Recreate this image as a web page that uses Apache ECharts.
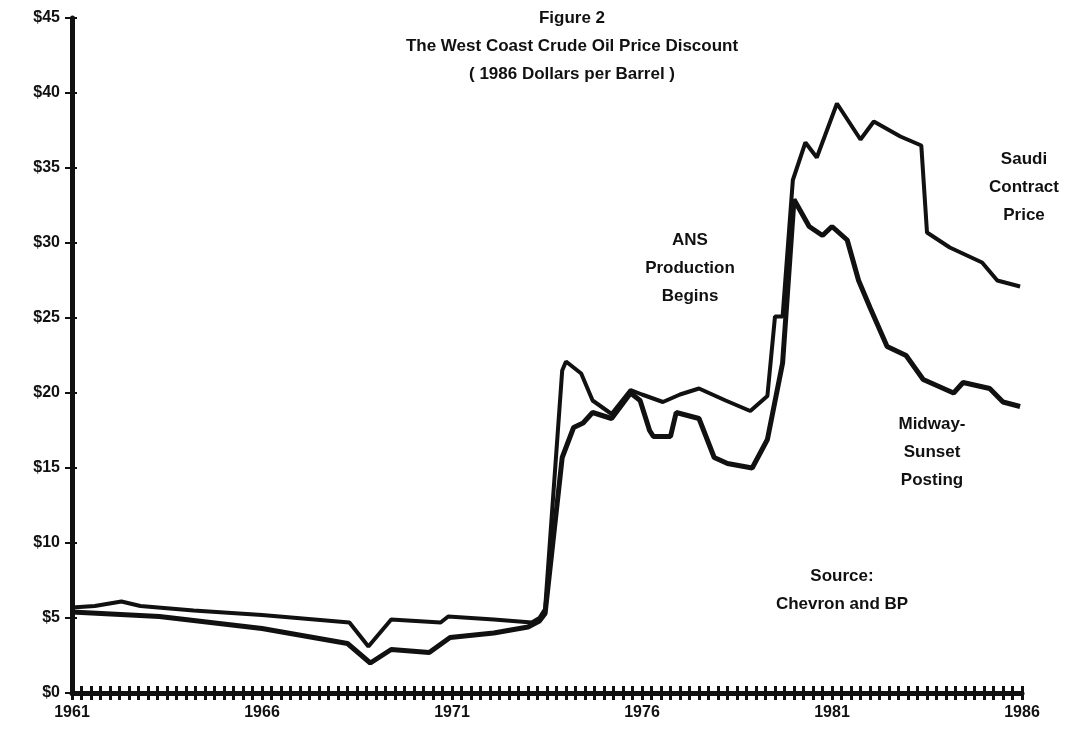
<!DOCTYPE html>
<html>
<head>
<meta charset="utf-8">
<script src="https://cdn.jsdelivr.net/npm/echarts@6/dist/echarts.min.js"></script>
<style>
  html, body { margin: 0; padding: 0; background: #fff; }
  #chart { width: 1066px; height: 752px; }
</style>
</head>
<body>
<div id="chart"></div>
<script>
// year labels on the x axis
const yearLabels = [1961, 1966, 1971, 1976, 1981, 1986]
const priceTicks = [0, 5, 10, 15, 20, 25, 30, 35, 40, 45]

// [year, 1986 $ per barrel]
const saudiContract = [
  [1961.0, 5.7], [1961.6, 5.8], [1962.3, 6.1], [1962.8, 5.8], [1964.2, 5.5],
  [1966.0, 5.2], [1968.3, 4.7], [1968.8, 3.1], [1969.4, 4.9], [1970.7, 4.7],
  [1970.9, 5.1], [1972.1, 4.9], [1973.1, 4.7], [1973.3, 5.0], [1973.45, 5.6],
  [1973.9, 21.5], [1974.0, 22.1], [1974.4, 21.3], [1974.7, 19.5], [1975.2, 18.6],
  [1975.7, 20.2], [1976.0, 19.9], [1976.55, 19.4], [1977.0, 19.9], [1977.5, 20.3],
  [1978.2, 19.5], [1978.85, 18.8], [1979.3, 19.8], [1979.5, 25.1], [1979.7, 25.1],
  [1979.97, 34.2], [1980.3, 36.7], [1980.6, 35.7], [1981.13, 39.3], [1981.75, 36.9],
  [1982.1, 38.1], [1982.8, 37.1], [1983.35, 36.5], [1983.5, 30.7], [1984.1, 29.7],
  [1984.95, 28.7], [1985.35, 27.5], [1985.95, 27.1]
]

const midwaySunset = [
  [1961.0, 5.4], [1963.3, 5.1], [1966.0, 4.3], [1968.25, 3.3], [1968.85, 2.0],
  [1969.4, 2.9], [1970.4, 2.7], [1970.95, 3.7], [1972.1, 4.0], [1973.0, 4.4],
  [1973.3, 4.8], [1973.45, 5.3], [1973.9, 15.7], [1974.2, 17.7], [1974.45, 18.0],
  [1974.7, 18.7], [1975.2, 18.3], [1975.7, 20.0], [1975.95, 19.5], [1976.2, 17.5],
  [1976.3, 17.1], [1976.75, 17.1], [1976.9, 18.7], [1977.5, 18.3], [1977.9, 15.7],
  [1978.25, 15.3], [1978.9, 15.0], [1979.3, 16.9], [1979.7, 22.0], [1980.0, 32.9],
  [1980.4, 31.1], [1980.75, 30.5], [1981.0, 31.1], [1981.4, 30.2], [1981.7, 27.5],
  [1982.0, 25.7], [1982.45, 23.1], [1982.95, 22.5], [1983.4, 20.9], [1984.2, 20.0],
  [1984.45, 20.7], [1985.15, 20.3], [1985.5, 19.4], [1985.95, 19.1]
]

// quarterly tick marks along the time axis
const quarterTicks = []
for (let q = 0; q <= 100; q++) quarterTicks.push(1961 + q / 4)

const font = '"Liberation Sans", Arial, sans-serif'
const chart = echarts.init(document.getElementById('chart'))

// centred text block, (x, y) = centre of first line's top
function note(x, y, text) {
  return {
    type: 'text', x: x, y: y,
    style: {
      text, align: 'center', verticalAlign: 'top',
      font: 'bold 17px ' + font, fill: '#111', lineHeight: 28
    }
  }
}

const option = {
  backgroundColor: '#fff',
  animation: false,
  grid: { left: 72, right: 44, top: 18, bottom: 59 },
  xAxis: [
    {
      type: 'value', min: 1961, max: 1986,
      splitLine: { show: false },
      axisLine: { lineStyle: { color: '#111', width: 5 } },
      axisTick: { customValues: quarterTicks, length: 7, lineStyle: { color: '#111', width: 3 } },
      axisLabel: {
        customValues: yearLabels, margin: 12, formatter: v => String(v),
        color: '#111', fontSize: 16, fontWeight: 'bold', fontFamily: font
      }
    },
    {
      type: 'value', min: 1961, max: 1986, position: 'bottom',
      splitLine: { show: false },
      axisLine: { show: false },
      axisTick: { customValues: quarterTicks, inside: true, length: 7, lineStyle: { color: '#111', width: 3 } },
      axisLabel: { show: false }
    }
  ],
  yAxis: [
    {
      type: 'value', min: 0, max: 45, interval: 5,
      splitLine: { show: false },
      axisLine: { show: true, lineStyle: { color: '#111', width: 5 } },
      axisTick: { show: true, length: 7, lineStyle: { color: '#111', width: 2 } },
      axisLabel: {
        margin: 12, color: '#111', fontSize: 16, fontWeight: 'bold', fontFamily: font,
        formatter: v => priceTicks.includes(v) ? '$' + v : ''
      }
    },
    {
      type: 'value', min: 0, max: 45, interval: 5, position: 'left',
      splitLine: { show: false },
      axisLine: { show: false },
      axisTick: { show: true, inside: true, length: 5, lineStyle: { color: '#111', width: 2 } },
      axisLabel: { show: false }
    }
  ],
  series: [
    {
      name: 'Saudi Contract Price', type: 'line', data: saudiContract,
      showSymbol: false, lineStyle: { color: '#111', width: 4 }
    },
    {
      name: 'Midway-Sunset Posting', type: 'line', data: midwaySunset,
      showSymbol: false, lineStyle: { color: '#111', width: 5 }
    }
  ],
  graphic: [
    note(572, 4, 'Figure 2\nThe West Coast Crude Oil Price Discount\n( 1986 Dollars per Barrel )'),
    note(690, 226, 'ANS\nProduction\nBegins'),
    note(1024, 145, 'Saudi\nContract\nPrice'),
    note(932, 410, 'Midway-\nSunset\nPosting'),
    note(842, 562, 'Source:\nChevron and BP')
  ]
}

chart.setOption(option)
window.addEventListener('resize', () => chart.resize())
</script>
</body>
</html>
